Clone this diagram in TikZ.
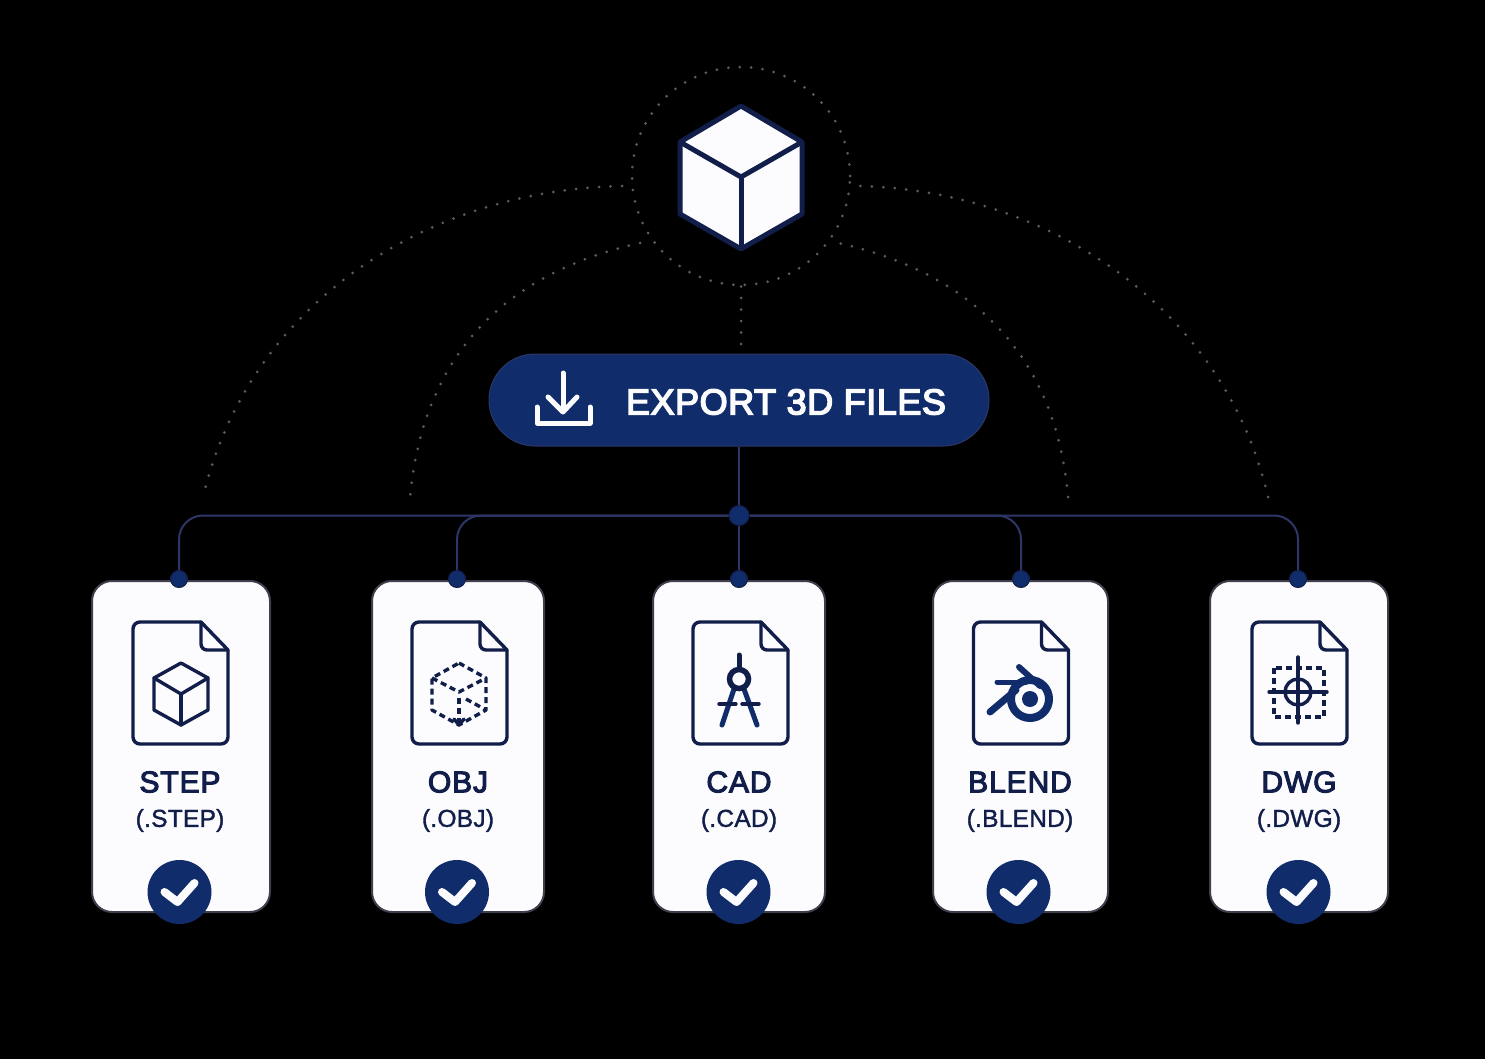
\documentclass[tikz,border=0pt]{standalone}
\usepackage{xcolor}
\usepackage{fontspec}
\usepackage{tikz}
\usetikzlibrary{arrows.meta, positioning, calc}
\setmainfont{Liberation Sans}
\newfontfamily\labelfont[FakeBold=3.5, LetterSpace=3]{Liberation Sans}
\newfontfamily\buttonfont[FakeBold=4, LetterSpace=1.5]{Liberation Sans}
\newfontfamily\extfont[FakeBold=1.5, LetterSpace=1]{Liberation Sans}
\definecolor{navy}{RGB}{16, 44, 106}
\definecolor{inkblue}{RGB}{18, 30, 74}
\definecolor{linkblue}{RGB}{46, 54, 104}
\definecolor{paper}{RGB}{252, 252, 254}
\definecolor{cardedge}{RGB}{62, 62, 76}
\definecolor{dotgray}{RGB}{92, 92, 96}
\tikzstyle{card} = [
    rectangle,
    rounded corners=20pt,
    minimum height=331pt,
    draw=cardedge,
    line width=2pt,
    fill=paper
]
\tikzstyle{pill} = [
    rectangle,
    rounded corners=46pt,
    minimum width=500pt,
    minimum height=92pt,
    draw=linkblue,
    line width=1pt,
    fill=navy
]
\tikzstyle{portdot} = [
    circle,
    minimum size=17pt,
    inner sep=0pt,
    draw=inkblue,
    line width=1pt,
    fill=navy
]
\tikzstyle{checkdot} = [
    circle,
    minimum size=64pt,
    inner sep=0pt,
    fill=navy
]
\tikzstyle{cardname} = [
    text=inkblue,
    inner sep=0pt,
    font=\labelfont\fontsize{30}{36}\selectfont
]
\tikzstyle{cardext} = [
    text=inkblue,
    inner sep=0pt,
    font=\extfont\fontsize{24.5}{30}\selectfont
]
\tikzstyle{link} = [
    line width=2pt,
    color=linkblue,
    rounded corners=24pt
]
\tikzstyle{dotline} = [
    line width=3pt,
    line cap=round,
    dash pattern=on 0pt off 11.5pt,
    color=dotgray
]
\tikzstyle{icon} = [
    line width=3.4pt,
    color=inkblue,
    line join=round,
    line cap=round
]
\tikzstyle{dashicon} = [
    icon,
    line cap=butt,
    dash pattern=on 6pt off 4pt
]
\tikzstyle{tick} = [
    line width=8pt,
    color=paper,
    line cap=round,
    line join=round
]
\newcommand{\fileicon}[1]{
    \begin{scope}[shift={(#1,622)}]
        \draw[icon, rounded corners=7pt] (68,0) -- (0,0) -- (0,122) -- (95,122) -- (95,28);
        \draw[icon] (68,0) -- (95,28);
        \draw[icon, rounded corners=6pt] (68,0) -- (68,28) -- (95,28);
    \end{scope}
}
\newcommand{\tickmark}[1]{
    \draw[tick] ([shift={(-15,0)}]#1.center) -- ([shift={(-2,10)}]#1.center) -- ([shift={(15,-9)}]#1.center);
}
\begin{document}
\begin{tikzpicture}[x=1pt, y=-1pt]
        \fill[black] (0,0) rectangle (1485,1059);

        % Dotted guides
        \node[circle, minimum size=218pt, inner sep=0pt, draw, dotline] (ring) at (741,176) {};
        \coordinate (outerleft) at (622,186);
        \coordinate (outerleftend) at (203,497);
        \coordinate (innerleft) at (640,243);
        \coordinate (innerleftend) at (410,497);
        \coordinate (outerright) at (858,186);
        \coordinate (outerrightend) at (1268,497);
        \coordinate (innerright) at (838,243);
        \coordinate (innerrightend) at (1068,497);
        \coordinate (stemend) at (741,345);
        \draw[dotline] (outerleft) .. controls (430,190) and (250,300) .. (outerleftend);
        \draw[dotline] (innerleft) .. controls (520,270) and (425,340) .. (innerleftend);
        \draw[dotline] (outerrightend) .. controls (1225,310) and (1050,190) .. (outerright);
        \draw[dotline] (innerrightend) .. controls (1055,345) and (960,270) .. (innerright);
        \draw[dotline] (ring.south) -- (stemend);

        % Cube
        \begin{scope}[shift={(741,177)}]
            \draw[line width=5pt, color=inkblue, fill=paper, line join=round] (0,-71) -- (61,-35) -- (61,37) -- (0,72) -- (-61,37) -- (-61,-35) -- cycle;
            \draw[line width=5pt, color=inkblue, line join=round] (-61,-35) -- (0,0) -- (61,-35);
            \draw[line width=5pt, color=inkblue] (0,0) -- (0,72);
        \end{scope}

        % Export button
        \node[pill] (export) at (739,400) {};
        \node[text=paper, inner sep=0pt, font=\buttonfont\fontsize{36}{44}\selectfont] (exportlabel) at (786,402) {EXPORT 3D FILES};
        \draw[line width=5pt, color=paper, line cap=round, line join=round] (563,373) -- (563,411);
        \draw[line width=5pt, color=paper, line cap=round, line join=round] (548,397) -- (563,412) -- (577,397);
        \draw[line width=5pt, color=paper, line cap=round, line join=round] (537,407) -- (537,423) -- (590,423) -- (590,407);

        % Cards
        \node[card, minimum width=178pt] (cardstep) at (181,746.5) {};
        \node[card, minimum width=172pt] (cardobj) at (458,746.5) {};
        \node[card, minimum width=172pt] (cardcad) at (739,746.5) {};
        \node[card, minimum width=175pt] (cardblend) at (1020.5,746.5) {};
        \node[card, minimum width=178pt] (carddwg) at (1299,746.5) {};

        % Ports
        \node[portdot, minimum size=20pt] (hub) at (739,515.5) {};
        \node[portdot] (portstep) at (179,579) {};
        \node[portdot] (portobj) at (457,579) {};
        \node[portdot] (portcad) at (739,579) {};
        \node[portdot] (portblend) at (1021,579) {};
        \node[portdot] (portdwg) at (1298,579) {};

        % Connections
        \draw[link] (export) -- (hub);
        \draw[link] (hub) -- (portcad);
        \draw[link] (hub) -| (portstep);
        \draw[link] (hub) -| (portobj);
        \draw[link] (hub) -| (portblend);
        \draw[link] (hub) -| (portdwg);

        % File icons
        \fileicon{133}
        \fileicon{412}
        \fileicon{693}
        \fileicon{973.5}
        \fileicon{1252}

        % STEP icon
        \begin{scope}[shift={(181,694)}]
            \draw[icon] (0,-31) -- (27,-16) -- (27,16) -- (0,31) -- (-27,16) -- (-27,-16) -- cycle;
            \draw[icon] (-27,-16) -- (0,0) -- (27,-16);
            \draw[icon] (0,0) -- (0,31);
        \end{scope}

        % OBJ icon
        \begin{scope}[shift={(459,694)}]
            \draw[dashicon] (0,-31) -- (27,-16) -- (27,16) -- (0,31) -- (-27,16) -- (-27,-16) -- cycle;
            \draw[dashicon] (-27,-16) -- (0,-2) -- (27,-16);
            \draw[dashicon] (0,4) -- (0,28);
            \draw[dashicon] (7,5) -- (27,16);
            \draw[icon] (-5,25) -- (0,31) -- (5,25);
        \end{scope}

        % CAD icon
        \begin{scope}[shift={(739,679)}]
            \draw[line width=5pt, color=inkblue, line cap=round] (0,-24) -- (0,-12);
            \draw[line width=5pt, color=navy, line cap=round] (-5,10) -- (-17,46);
            \draw[line width=5pt, color=navy, line cap=round] (5,10) -- (18,46);
            \draw[line width=3.4pt, color=inkblue, line cap=round] (-20,25) -- (-3,25);
            \draw[line width=3.4pt, color=inkblue, line cap=round] (3,25) -- (20,25);
            \draw[line width=5.5pt, color=inkblue, fill=paper] (0,0) circle (9.5);
        \end{scope}

        % BLEND icon
        \begin{scope}[shift={(1030,699)}]
            \draw[line width=6pt, color=navy, line cap=round] (-11,-32) -- (10,-13);
            \draw[line width=5pt, color=navy, line cap=round] (-33,-17) -- (-4,-17);
            \draw[line width=7pt, color=navy, line cap=round] (-40,13) -- (-14,-9);
            \draw[line width=8pt, color=navy] (0,0) circle (19);
            \fill[navy] (0,0) circle (8);
        \end{scope}

        % DWG icon
        \begin{scope}[shift={(1298,692)}]
            \draw[dashicon] (-24,-24) rectangle (26,25);
            \draw[icon] (0,0) circle (13);
            \draw[icon] (0,-35) -- (0,31);
            \draw[icon] (-29,0) -- (29,0);
        \end{scope}

        % Labels
        \node[cardname] (namestep) at (180,782) {STEP};
        \node[cardname] (nameobj) at (458,782) {OBJ};
        \node[cardname] (namecad) at (739,782) {CAD};
        \node[cardname] (nameblend) at (1020,782) {BLEND};
        \node[cardname] (namedwg) at (1299,782) {DWG};
        \node[cardext] (extstep) at (180,820.5) {(.STEP)};
        \node[cardext] (extobj) at (458,820.5) {(.OBJ)};
        \node[cardext] (extcad) at (739,820.5) {(.CAD)};
        \node[cardext] (extblend) at (1020,820.5) {(.BLEND)};
        \node[cardext] (extdwg) at (1299,820.5) {(.DWG)};

        % Checks
        \node[checkdot] (checkstep) at (179.5,892) {};
        \node[checkdot] (checkobj) at (457,892) {};
        \node[checkdot] (checkcad) at (738.5,892) {};
        \node[checkdot] (checkblend) at (1018.5,892) {};
        \node[checkdot] (checkdwg) at (1298.5,892) {};
        \tickmark{checkstep}
        \tickmark{checkobj}
        \tickmark{checkcad}
        \tickmark{checkblend}
        \tickmark{checkdwg}
    \end{tikzpicture}
\end{document}
